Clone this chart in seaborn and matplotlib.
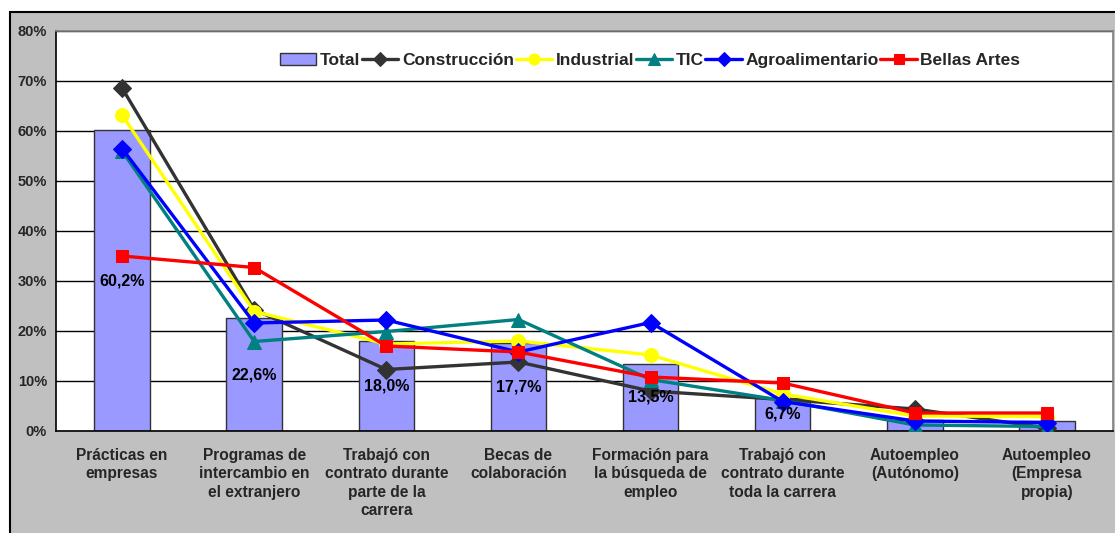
import numpy as np
import pandas as pd
import seaborn as sns
import matplotlib.pyplot as plt
from matplotlib.patches import Rectangle
from matplotlib.ticker import FuncFormatter, FixedLocator

categorias = ["Prácticas en\nempresas", "Programas de\nintercambio en\nel extranjero",
			  "Trabajó con\ncontrato durante\nparte de la\ncarrera", "Becas de\ncolaboración",
			  "Formación para\nla búsqueda de\nempleo", "Trabajó con\ncontrato durante\ntoda la carrera",
			  "Autoempleo\n(Autónomo)", "Autoempleo\n(Empresa\npropia)"]
total = [60.2, 22.6, 18.0, 17.7, 13.5, 6.7, 2.3, 2.0]
etiquetas_total = ["60,2%", "22,6%", "18,0%", "17,7%", "13,5%", "6,7%", "", ""]
construccion = [68.6, 24.3, 12.3, 13.8, 8.0, 6.3, 4.4, 0.6]
industrial = [63.2, 23.9, 17.4, 18.0, 15.2, 7.4, 3.0, 2.9]
tic = [56.0, 17.9, 19.9, 22.3, 10.3, 6.1, 1.2, 0.9]
agroalimentario = [56.5, 21.6, 22.2, 15.8, 21.7, 5.9, 2.0, 1.7]
bellas_artes = [35.0, 32.7, 17.0, 15.8, 10.8, 9.6, 3.6, 3.6]

series = [("Construcción", construccion, "#333333", "D", 9),
		  ("Industrial", industrial, "#FFFF00", "o", 10),
		  ("TIC", tic, "#008080", "^", 10),
		  ("Agroalimentario", agroalimentario, "#0000FF", "D", 9),
		  ("Bellas Artes", bellas_artes, "#FF0000", "s", 9)]

sns.set_style("white")
plt.rcParams['font.family'] = ['Liberation Sans', 'DejaVu Sans']
plt.rcParams['font.weight'] = 'bold'

fig = plt.figure(figsize=(11.15, 5.33), dpi=100)
fig.patch.set_facecolor("white")
fondo = Rectangle((10 / 1115, -0.1), 1.2, 1.1 - 12 / 533, transform=fig.transFigure,
				  facecolor="#C0C0C0", edgecolor="black", lw=1.5, zorder=-10)
fig.patches.append(fondo)

ax = fig.add_axes([56 / 1115, 1 - 431 / 533, 1057 / 1115, 400 / 533])
ax.set_facecolor("white")

df = pd.DataFrame({"categoria": categorias, "total": total})
sns.barplot(data=df, x="categoria", y="total", color="#9999FF", saturation=1,
			edgecolor="#333333", linewidth=1, width=0.42, ax=ax, label="Total", zorder=2)

pos = np.arange(len(categorias))
for nombre, vals, col, mk, ms in series:
	sns.lineplot(x=pos, y=vals, color=col, marker=mk, markersize=ms, markeredgecolor=col,
				 linewidth=2.4, ax=ax, label=nombre, zorder=3)

for i, txt in enumerate(etiquetas_total):
	if txt:
		ax.text(pos[i], total[i] / 2, txt, ha="center", va="center", fontsize=11.5,
				fontweight="bold", color="black", zorder=4)

ax.set_xlim(-0.5, len(categorias) - 0.5)
ax.set_ylim(0, 80)
ax.set_yticks(np.arange(0, 81, 10))
ax.yaxis.set_major_formatter(FuncFormatter(lambda v, p: "%d%%" % v))
ax.grid(axis="y", color="black", lw=1, zorder=0)
ax.set_axisbelow(True)
ax.set_xlabel("")
ax.set_ylabel("")
ax.set_xticks(pos)
ax.set_xticklabels(categorias, fontsize=11.2, fontweight="bold", linespacing=1.3)
ax.xaxis.set_minor_locator(FixedLocator(np.arange(-0.5, len(categorias), 1)))
ax.tick_params(axis="x", which="major", length=0, pad=12)
ax.tick_params(axis="x", which="minor", direction="inout", length=9, width=1, color="black")
ax.tick_params(axis="y", direction="inout", length=7, width=1, color="black",
			   labelsize=10.5, pad=3)
for t in ax.get_yticklabels():
	t.set_fontweight("bold")
for s in ["left", "bottom"]:
	ax.spines[s].set_color("black")
	ax.spines[s].set_linewidth(1.2)
for s in ["top", "right"]:
	ax.spines[s].set_color("#808080")
	ax.spines[s].set_linewidth(1.2)

handles, labels = ax.get_legend_handles_labels()
orden = [labels.index("Total")] + [i for i, l in enumerate(labels) if l != "Total"]
ax.legend([handles[i] for i in orden], [labels[i] for i in orden], loc="center",
		  bbox_to_anchor=(0.562, 0.927), ncol=6, frameon=False,
		  prop={"weight": "bold", "size": 12.5},
		  handlelength=2.1, handletextpad=0.2, columnspacing=0.1, numpoints=1,
		  markerscale=0.8)

plt.savefig("out.png", dpi=100)
